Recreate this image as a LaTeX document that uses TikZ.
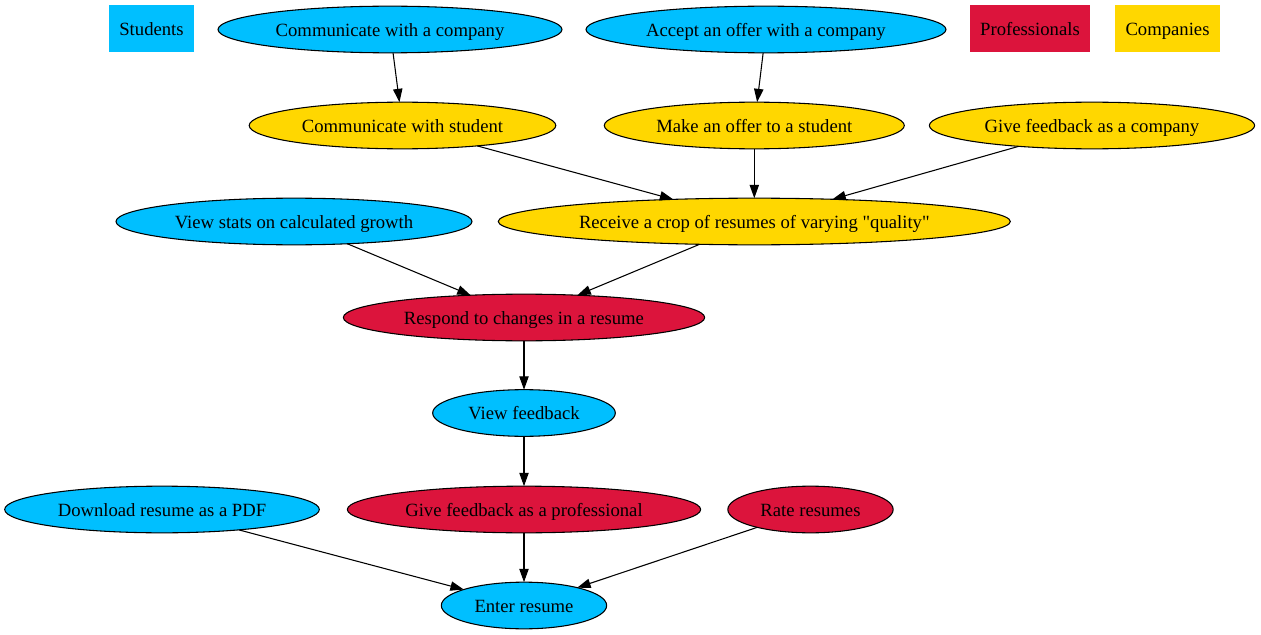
\documentclass[tikz,border=0pt]{standalone}
\usepackage{fontspec}
\setmainfont{Liberation Serif}
\newfontfamily\rawserif{Liberation Serif}
\usepackage{tikz}
\usetikzlibrary{arrows.meta, shapes.geometric}

\definecolor{student}{RGB}{0,191,255}
\definecolor{pro}{RGB}{220,20,60}
\definecolor{company}{RGB}{255,215,0}

\begin{document}
\begin{tikzpicture}[x=0.75pt,y=-0.75pt,
	every node/.style={font=\rawserif\fontsize{14}{16}\selectfont, text height=11pt, text depth=1pt, inner sep=0pt, outer sep=0pt},
	task/.style={ellipse, draw=black, line width=0.8pt, minimum height=35pt},
	legend/.style={rectangle, minimum height=35pt},
	edge/.style={line width=0.8pt, -{Triangle[length=10pt,width=7pt]}}]
				\useasboundingbox (0,0) rectangle (1261,635);
				% legend
				\node[legend, fill=student, minimum width=64pt] (stud) at (151.5,28.5) {Students};
				\node[legend, fill=pro, minimum width=90pt] (prof) at (1030,28.5) {Professionals};
				\node[legend, fill=company, minimum width=79pt] (comp) at (1167.5,28.5) {Companies};
				% row 1
				\node[task, fill=student, minimum width=258pt] (cwc) at (390,29.5) {Communicate with a company};
				\node[task, fill=student, minimum width=270pt] (aoc) at (766,29.5) {Accept an offer with a company};
				% row 2
				\node[task, fill=company, minimum width=230pt] (cws) at (402.5,125.5) {Communicate with student};
				\node[task, fill=company, minimum width=225pt] (mos) at (754.3,125.5) {Make an offer to a student};
				\node[task, fill=company, minimum width=244pt] (gfc) at (1092,125.5) {Give feedback as a company};
				% row 3
				\node[task, fill=student, minimum width=267pt] (vsg) at (294,221.5) {View stats on calculated growth};
				\node[task, fill=company, minimum width=384pt] (rcr) at (754.3,221.5) {Receive a crop of resumes of varying "quality"};
				% row 4
				\node[task, fill=pro, minimum width=271pt] (rtc) at (524,317.5) {Respond to changes in a resume};
				% row 5
				\node[task, fill=student, minimum width=137pt] (vfb) at (524,413) {View feedback};
				% row 6
				\node[task, fill=student, minimum width=236pt] (drp) at (162,509.5) {Download resume as a PDF};
				\node[task, fill=pro, minimum width=265pt] (gfp) at (524,509.5) {Give feedback as a professional};
				\node[task, fill=pro, minimum width=124pt] (rr) at (810.5,509.5) {Rate resumes};
				% row 7
				\node[task, fill=student, minimum width=124pt] (er) at (524,605.5) {Enter resume};
				% edges
				\draw[edge] (cwc) -- (cws);
				\draw[edge] (aoc) -- (mos);
				\draw[edge] (cws) -- (rcr);
				\draw[edge] (mos) -- (rcr);
				\draw[edge] (gfc) -- (rcr);
				\draw[edge] (vsg) -- (rtc);
				\draw[edge] (rcr) -- (rtc);
				\draw[edge] (rtc) -- (vfb);
				\draw[edge] (vfb) -- (gfp);
				\draw[edge] (drp) -- (er);
				\draw[edge] (gfp) -- (er);
				\draw[edge] (rr) -- (er);
			\end{tikzpicture}
\end{document}
